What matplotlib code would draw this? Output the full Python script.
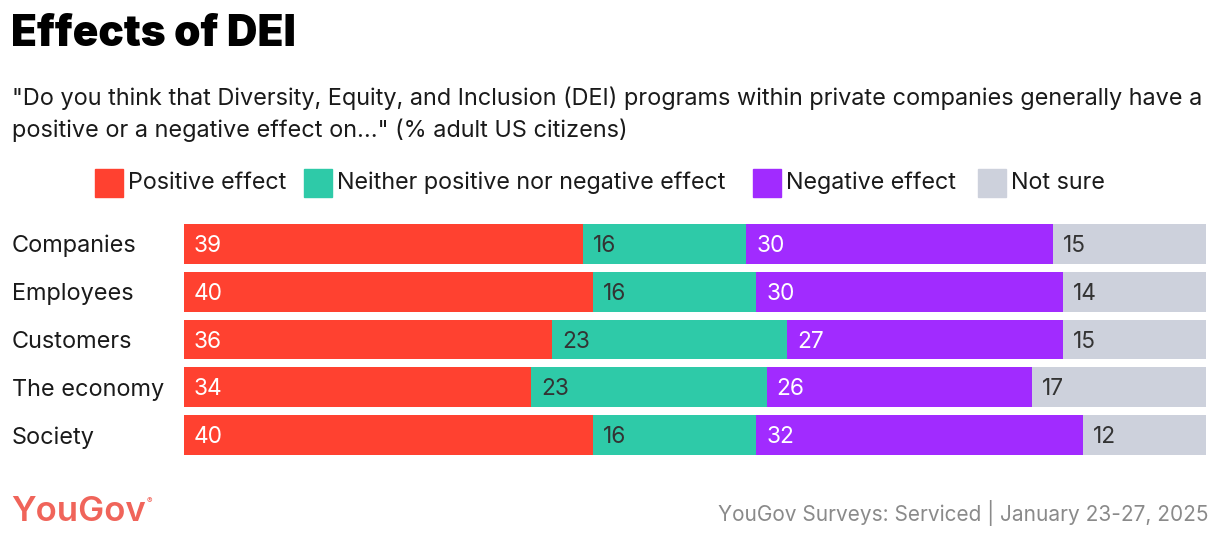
import matplotlib
matplotlib.use("Agg")
import matplotlib.pyplot as plt
import numpy as np

plt.rcParams['font.family'] = ['Inter', 'DejaVu Sans']

categories = ['Companies', 'Employees', 'Customers', 'The economy', 'Society']
series_names = ['Positive effect', 'Neither positive nor negative effect', 'Negative effect', 'Not sure']
positive = [39, 40, 36, 34, 40]
neither = [16, 16, 23, 23, 16]
negative = [30, 30, 27, 26, 32]
not_sure = [15, 14, 15, 17, 12]

colors = ['#FF4130', '#2ECAA8', '#A12BFF', '#CDD1DC']
label_colors = ['white', '#333333', 'white', '#333333']

W, H = 1220, 544
fig = plt.figure(figsize=(W / 100, H / 100), dpi=100)

def px(x, y):
    return x / W, 1 - y / H

# bar axes
bar_top, bar_bottom = 224, 455
ax = fig.add_axes([184 / W, 1 - bar_bottom / H, 1022 / W, (bar_bottom - bar_top) / H])
half = 40 / 48 / 2
ax.set_ylim(len(categories) - 1 + half, -half)
ax.set_xlim(0, 100)
ax.axis('off')

y = np.arange(len(categories))
left = np.zeros(len(categories))
for values, color, tcolor in zip([positive, neither, negative, not_sure], colors, label_colors):
    values = np.array(values, dtype=float)
    ax.barh(y, values, left=left, height=2 * half, color=color, linewidth=0)
    for yi, (l, v) in enumerate(zip(left, values)):
        ax.annotate(f'{int(v)}', (l, yi), xytext=(10, -2), textcoords='offset pixels',
                    ha='left', va='center', fontsize=16.3, color=tcolor)
    left += values

for yi, cat in enumerate(categories):
    fig.text(12 / W, 1 - (bar_top + 22 + 48 * yi) / H, cat, ha='left', va='center',
             fontsize=16.9, color='#1a1a1a')

# title and subtitle
fig.text(*px(11, 34), 'Effects of DEI', ha='left', va='center', fontsize=30.5,
         fontweight='black', color='black')
fig.text(*px(12, 98), '"Do you think that Diversity, Equity, and Inclusion (DEI) programs within private companies generally have a',
         ha='left', va='center', fontsize=16.9, color='#1a1a1a')
fig.text(*px(12, 130), 'positive or a negative effect on..." (% adult US citizens)',
         ha='left', va='center', fontsize=16.9, color='#1a1a1a')

# legend
legend_x = [95, 304, 753, 978]
for lx, name, color in zip(legend_x, series_names, colors):
    fig.patches.append(plt.Rectangle(px(lx, 197), 28 / W, 28 / H, color=color,
                                     transform=fig.transFigure, figure=fig))
    fig.text(*px(lx + 33, 183), name, ha='left', va='center', fontsize=16.8, color='#1a1a1a')

# footer
fig.text(*px(11, 512), 'YouGov', ha='left', va='center', fontsize=25,
         fontweight='semibold', color='#F0645A')
fig.text(*px(147, 501), '®', ha='left', va='center', fontsize=6, color='#F0645A')
fig.text(*px(1208, 513), 'YouGov Surveys: Serviced | January 23-27, 2025', ha='right',
         va='center', fontsize=15, color='#8a8a8a')

fig.savefig('out.png', dpi=100, facecolor='white')
